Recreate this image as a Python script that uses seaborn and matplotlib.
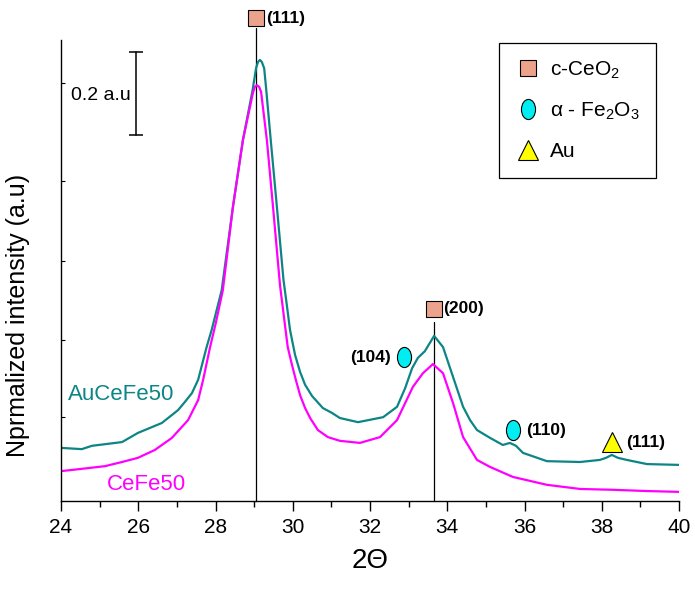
import numpy as np
import pandas as pd
import matplotlib
matplotlib.use("Agg")
import matplotlib.pyplot as plt
from matplotlib.path import Path
from matplotlib.transforms import Affine2D
from matplotlib.lines import Line2D
import seaborn as sns

# ---------------- data ----------------
two_theta_au = [24.0, 24.54, 24.80, 25.58, 25.99, 26.30, 26.61, 27.03, 27.21, 27.39,
                27.55, 27.77, 27.90, 28.16, 28.45, 28.71, 28.96, 29.05, 29.10, 29.15,
                29.20, 29.26, 29.31, 29.43, 29.59, 29.76, 29.83, 29.93, 30.06, 30.19,
                30.32, 30.50, 30.78, 31.02, 31.22, 31.69, 32.34, 32.70, 32.91, 33.09,
                33.24, 33.42, 33.55, 33.66, 33.89, 34.15, 34.41, 34.59, 34.77, 35.11,
                35.44, 35.62, 35.78, 35.96, 36.58, 37.44, 37.95, 38.11, 38.26, 38.42,
                38.65, 39.17, 40.0]
intensity_au = [0.128, 0.125, 0.133, 0.142, 0.164, 0.176, 0.188, 0.219, 0.239, 0.260,
                0.292, 0.371, 0.412, 0.508, 0.708, 0.870, 0.990, 1.043, 1.058, 1.063,
                1.058, 1.043, 0.995, 0.870, 0.708, 0.533, 0.484, 0.412, 0.352, 0.311,
                0.280, 0.253, 0.224, 0.212, 0.200, 0.190, 0.202, 0.227, 0.272, 0.320,
                0.345, 0.361, 0.381, 0.398, 0.371, 0.299, 0.227, 0.195, 0.171, 0.152,
                0.135, 0.140, 0.133, 0.116, 0.096, 0.094, 0.099, 0.104, 0.111, 0.104,
                0.099, 0.089, 0.087]

two_theta_ce = [24.0, 24.49, 25.14, 25.58, 25.99, 26.43, 26.87, 27.29, 27.55, 27.68,
                27.86, 28.01, 28.19, 28.45, 28.71, 28.97, 29.02, 29.07, 29.13, 29.18,
                29.33, 29.49, 29.67, 29.75, 29.87, 29.98, 30.08, 30.19, 30.32, 30.45,
                30.65, 30.91, 31.22, 31.74, 32.26, 32.70, 33.11, 33.37, 33.63, 33.89,
                34.15, 34.41, 34.77, 35.11, 35.70, 36.58, 37.44, 38.29, 39.17, 40.0]
intensity_ce = [0.072, 0.077, 0.084, 0.094, 0.104, 0.123, 0.152, 0.195, 0.243, 0.292,
                0.371, 0.430, 0.508, 0.708, 0.870, 0.984, 0.998, 1.002, 0.998, 0.986,
                0.870, 0.708, 0.520, 0.460, 0.371, 0.328, 0.292, 0.255, 0.224, 0.200,
                0.171, 0.154, 0.145, 0.140, 0.154, 0.195, 0.275, 0.308, 0.330, 0.308,
                0.236, 0.154, 0.099, 0.082, 0.058, 0.039, 0.029, 0.027, 0.024, 0.022]

sample_names = ["AuCeFe50", "CeFe50"]
sample_colors = ["#0E8585", "#FF00FF"]

# reflection markers
ref_lines_x = [29.05, 33.65]
ref_lines_top = [1.14, 0.431]
ceo2_x = [29.05, 33.65]
ceo2_y = [1.164, 0.463]
ceo2_lbl = ["(111)", "(200)"]
fe2o3_x = [32.88, 35.70]
fe2o3_y = [0.347, 0.171]
fe2o3_lbl = ["(104)", "(110)"]
au_x = [38.27]
au_y = [0.142]
au_lbl = ["(111)"]

legend_labels = ["c-CeO$_2$", "\u03b1 - Fe$_2$O$_3$", "Au"]

# ---------------- style ----------------
sns.set_style("ticks")
plt.rcParams["font.family"] = ["Liberation Sans", "DejaVu Sans"]
plt.rcParams["mathtext.fontset"] = "custom"
plt.rcParams["mathtext.rm"] = "Liberation Sans"
plt.rcParams["mathtext.it"] = "Liberation Sans:italic"
plt.rcParams["mathtext.bf"] = "Liberation Sans:bold"
for k in ["text.color", "axes.labelcolor", "xtick.color", "ytick.color", "axes.edgecolor"]:
    plt.rcParams[k] = "black"

sq_color = "#EBA38B"
cy_color = "#00EEF2"
ye_color = "#FFFF00"

ell_path = Path.unit_circle().transformed(Affine2D().scale(0.7, 1.0))

fig = plt.figure(figsize=(6.95, 5.9), dpi=100)
ax = fig.add_axes([61/695, 89/590, 618/695, 461/590])

df = pd.concat([
    pd.DataFrame({"2theta": two_theta_au, "I": intensity_au, "sample": sample_names[0]}),
    pd.DataFrame({"2theta": two_theta_ce, "I": intensity_ce, "sample": sample_names[1]}),
])
sns.lineplot(data=df, x="2theta", y="I", hue="sample", palette=sample_colors,
             linewidth=1.6, sort=False, legend=False, ax=ax, estimator=None)
for ln in ax.lines:
    ln.set_solid_joinstyle("round")

ax.set_xlim(24, 40)
ax.set_ylim(0, 1.111)

# reference lines
for x, top in zip(ref_lines_x, ref_lines_top):
    ax.plot([x, x], [0, top], color="black", lw=0.9, clip_on=False, zorder=1)

# markers + labels
for x, y, t in zip(ceo2_x, ceo2_y, ceo2_lbl):
    ax.plot(x, y, marker="s", ms=11.5, mfc=sq_color, mec="black", mew=0.8,
            clip_on=False, zorder=5)
    ax.text(x + 0.25, y, t, fontsize=12.5, fontweight="bold", va="center", ha="left")
for i, (x, y, t) in enumerate(zip(fe2o3_x, fe2o3_y, fe2o3_lbl)):
    ax.plot(x, y, marker=ell_path, ms=14.5, mfc=cy_color, mec="black", mew=0.8,
            clip_on=False, zorder=5)
    if i == 0:
        ax.text(x - 0.34, y, t, fontsize=12.5, fontweight="bold", va="center", ha="right")
    else:
        ax.text(x + 0.34, y, t, fontsize=12.5, fontweight="bold", va="center", ha="left")
for x, y, t in zip(au_x, au_y, au_lbl):
    ax.plot(x, y, marker="^", ms=15, mfc=ye_color, mec="black", mew=0.8,
            clip_on=False, zorder=5)
    ax.text(x + 0.36, y, t, fontsize=12.5, fontweight="bold", va="center", ha="left")

# scale bar
ax.plot([25.94, 25.94], [0.882, 1.082], color="black", lw=1.1, marker="_",
        ms=10, mew=1.1)
ax.text(25.81, 0.978, "0.2 a.u", fontsize=14, ha="right", va="center")

# sample labels
ax.text(24.18, 0.256, sample_names[0], color=sample_colors[0], fontsize=16,
        ha="left", va="center")
ax.text(25.2, 0.04, sample_names[1], color=sample_colors[1], fontsize=16,
        ha="left", va="center")

# legend
handles = [
    Line2D([], [], ls="none", marker="s", ms=11.5, mfc=sq_color, mec="black", mew=0.8),
    Line2D([], [], ls="none", marker=ell_path, ms=14.5, mfc=cy_color, mec="black", mew=0.8),
    Line2D([], [], ls="none", marker="^", ms=15, mfc=ye_color, mec="black", mew=0.8),
]
leg = ax.legend(handles, legend_labels, loc="upper right",
                bbox_to_anchor=((656-61)/618, (501-43)/461), borderaxespad=0,
                fontsize=15, frameon=True, fancybox=False, framealpha=1,
                edgecolor="black", borderpad=0.8, labelspacing=0.95,
                handlelength=1.2, handletextpad=0.45)
leg.get_frame().set_linewidth(0.9)

# axes
ax.xaxis.set_major_locator(matplotlib.ticker.MultipleLocator(2))
ax.xaxis.set_minor_locator(matplotlib.ticker.MultipleLocator(1))
ax.tick_params(axis="x", which="major", direction="out", length=7, width=1,
               labelsize=15, pad=5)
ax.tick_params(axis="x", which="minor", direction="out", length=4, width=1)
ax.set_yticks([0.202, 0.388, 0.578, 0.771, 1.007])
ax.tick_params(axis="y", which="major", direction="in", length=3, width=0.8,
               labelleft=False)
for s in ["top", "right"]:
    ax.spines[s].set_visible(False)
for s in ["left", "bottom"]:
    ax.spines[s].set_linewidth(1.0)
    ax.spines[s].set_color("black")

ax.set_xlabel("2\u0398", fontsize=20, labelpad=8)
ax.set_ylabel("Nprmalized intensity (a.u)", fontsize=18)
ax.yaxis.set_label_coords(-0.05, 0.403)

fig.savefig("out.png", dpi=100)
